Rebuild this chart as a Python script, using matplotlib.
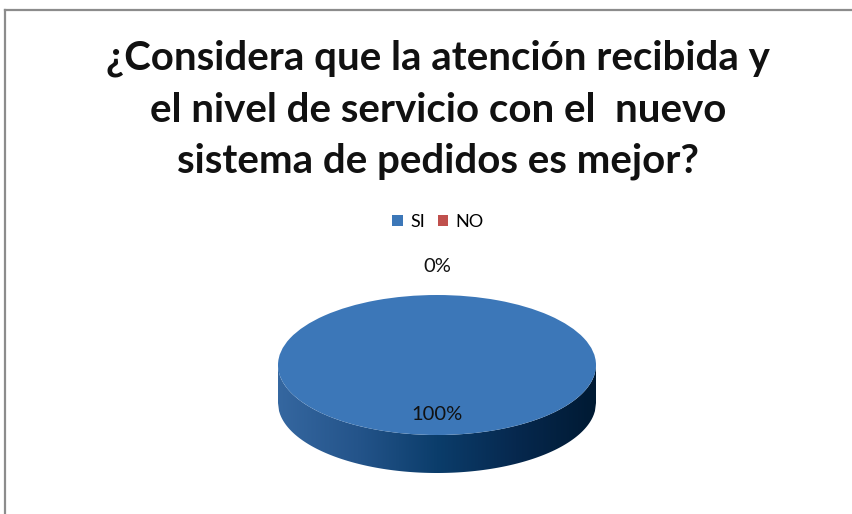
import numpy as np
import matplotlib
matplotlib.use("Agg")
import matplotlib.pyplot as plt
from matplotlib.colors import LinearSegmentedColormap
from matplotlib.patches import Polygon
from matplotlib.lines import Line2D

# ---- data ----
categories = ['SI', 'NO']
values = [100, 0]
colors = ['#3c77b8', '#c0504d']
title = ('¿Considera que la atención recibida y\n'
         'el nivel de servicio con el  nuevo\n'
         'sistema de pedidos es mejor?')

W, H = 852, 514
fig = plt.figure(figsize=(W / 100, H / 100), dpi=100)
fig.patch.set_facecolor('white')

# chart border (top and left visible)
fig.add_artist(Line2D([5 / W, 5 / W], [0, 1 - 10 / H], color='#8c8c8c', lw=1.6))
fig.add_artist(Line2D([5 / W, 1], [1 - 10 / H, 1 - 10 / H], color='#8c8c8c', lw=1.6))

fig.text(438 / W, 1 - 110 / H, title, ha='center', va='center',
         fontsize=29, fontweight='bold', family='Lato', linespacing=1.47,
         color='#111111')

# pie geometry (pixels)
cx, cy = 437, 365
a, b = 159, 70
depth = 38 / b

ax = fig.add_axes([0, 0, 1, 1])
wedges, _ = ax.pie(values, colors=colors, startangle=90, counterclock=False,
                   radius=1, center=(0, 0),
                   wedgeprops=dict(linewidth=0, zorder=3))
ax.set_aspect('auto')
ax.axis('off')

# side of the 3D pie with gradient
xs = np.linspace(-1, 1, 300)
top = -np.sqrt(np.clip(1 - xs ** 2, 0, None))
verts = np.concatenate([np.column_stack([xs, top]),
                        np.column_stack([xs[::-1], top[::-1] - depth])])
side = Polygon(verts, closed=True, facecolor='none', edgecolor='none')
ax.add_patch(side)
cmap = LinearSegmentedColormap.from_list('side', [
    (0.0, '#3567a0'), (0.25, '#24548a'), (0.5, '#0b3d6b'),
    (0.75, '#06284e'), (1.0, '#001a33')])
grad = np.linspace(0, 1, 256).reshape(1, -1)
im = ax.imshow(grad, cmap=cmap, extent=(-1, 1, -1 - depth, 0),
               aspect='auto', zorder=2, interpolation='bilinear')
im.set_clip_path(side)
ax.set_xlim(-cx / a, (W - cx) / a)
ax.set_ylim((cy - H) / b, cy / b)

# data labels
total = sum(values)
theta = 90.0
for v, w in zip(values, wedges):
    span = 360.0 * v / total
    mid = np.deg2rad(theta - span / 2)
    theta -= span
    r = 0.7 if v > 0 else 1.4
    ax.text(r * np.cos(mid), r * np.sin(mid), f'{v / total:.0%}',
            ha='center', va='center', fontsize=14.5, family='Lato',
            color='#111111', zorder=5)

fig.legend(wedges, categories, loc='center', ncol=2,
           bbox_to_anchor=(438 / W, 1 - 222 / H), frameon=False,
           prop=dict(family='Lato', size=13), handlelength=0.6,
           handleheight=0.6, handletextpad=0.4, columnspacing=0.7)

fig.savefig('out.png', dpi=100, facecolor='white')
